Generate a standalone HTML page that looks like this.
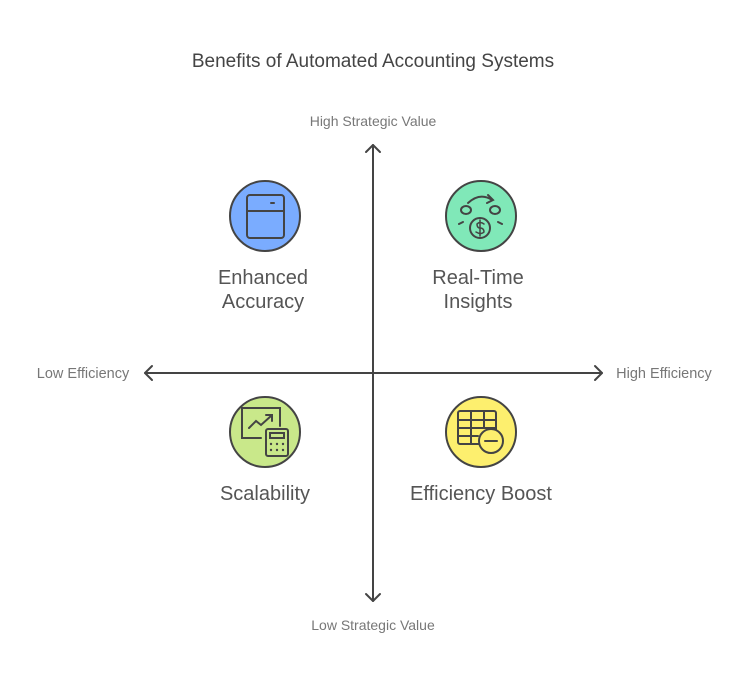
<!DOCTYPE html>
<html><head><meta charset="utf-8"><style>
body{margin:0;background:#fff;width:746px;height:686px;overflow:hidden;font-family:"Liberation Sans",sans-serif}
</style></head><body>
<svg width="746" height="686" viewBox="0 0 746 686" xmlns="http://www.w3.org/2000/svg" font-family="Liberation Sans, sans-serif">
<text x="373" y="67" text-anchor="middle" font-size="19" fill="#444">Benefits of Automated Accounting Systems</text>
<text x="373" y="126" text-anchor="middle" font-size="14" fill="#777">High Strategic Value</text>
<text x="373" y="630" text-anchor="middle" font-size="14" fill="#777">Low Strategic Value</text>
<text x="83" y="378" text-anchor="middle" font-size="14.5" fill="#777">Low Efficiency</text>
<text x="664" y="378" text-anchor="middle" font-size="14.5" fill="#777">High Efficiency</text>
<g stroke="#444" stroke-width="2" fill="none" stroke-linecap="round" stroke-linejoin="round">
<line x1="373" y1="145" x2="373" y2="601"/>
<polyline points="366,152 373,145 380,152"/>
<polyline points="366,594 373,601 380,594"/>
<line x1="145" y1="373" x2="602" y2="373"/>
<polyline points="152,366 145,373 152,380"/>
<polyline points="595,366 602,373 595,380"/>
</g>
<g stroke="#444" stroke-width="2">
<circle cx="265" cy="216" r="35" fill="#7aacff"/>
<circle cx="481" cy="216" r="35" fill="#80e8b8"/>
<circle cx="265" cy="432" r="35" fill="#c9e88a"/>
<circle cx="481" cy="432" r="35" fill="#fdef6e"/>
</g>
<g stroke="#444" stroke-width="2" fill="none" stroke-linecap="round">
<rect x="247" y="195" width="37" height="43" rx="3"/>
<line x1="247" y1="211" x2="284" y2="211"/>
<line x1="271" y1="203" x2="274" y2="203"/>
<path d="M468 203 Q480 192 492 200"/><polyline points="488,195 493,200 487,203"/>
<circle cx="480" cy="228" r="10"/>
<ellipse cx="466" cy="210" rx="5" ry="4"/><ellipse cx="495" cy="210" rx="5" ry="4"/>
<line x1="459" y1="224" x2="463" y2="222"/><line x1="498" y1="222" x2="502" y2="224"/>
<path d="M484 224 Q480 221 477 224 Q477 228 480 228 Q484 228 484 232 Q481 235 476 232" stroke-width="1.5"/>
<line x1="480" y1="220" x2="480" y2="236" stroke-width="1.5"/>
<polyline points="261,438 242,438 242,408 280,408 280,426"/>
<polyline points="249,428 256,421 261,425 271,416"/><polyline points="266,415 272,415 272,421"/>
<rect x="266" y="429" width="22" height="27" rx="2" fill="#c9e88a"/>
<rect x="270" y="433" width="14" height="5"/>
<rect x="458" y="411" width="38" height="33" rx="2"/>
<line x1="458" y1="420" x2="496" y2="420"/><line x1="458" y1="428" x2="496" y2="428"/><line x1="458" y1="436" x2="478" y2="436"/>
<line x1="471" y1="411" x2="471" y2="444"/><line x1="484" y1="411" x2="484" y2="428"/>
<circle cx="491" cy="441" r="12" fill="#fdef6e"/>
<line x1="485" y1="441" x2="497" y2="441"/>
</g>
<g fill="#444"><circle cx="271" cy="444" r="1.2"/><circle cx="277" cy="444" r="1.2"/><circle cx="283" cy="444" r="1.2"/><circle cx="271" cy="450" r="1.2"/><circle cx="277" cy="450" r="1.2"/><circle cx="283" cy="450" r="1.2"/></g>
<g font-size="20" fill="#555" text-anchor="middle">
<text x="263" y="284">Enhanced</text><text x="263" y="308">Accuracy</text>
<text x="478" y="284">Real-Time</text><text x="478" y="308">Insights</text>
<text x="265" y="500">Scalability</text>
<text x="481" y="500">Efficiency Boost</text>
</g>
</svg>
</body></html>
